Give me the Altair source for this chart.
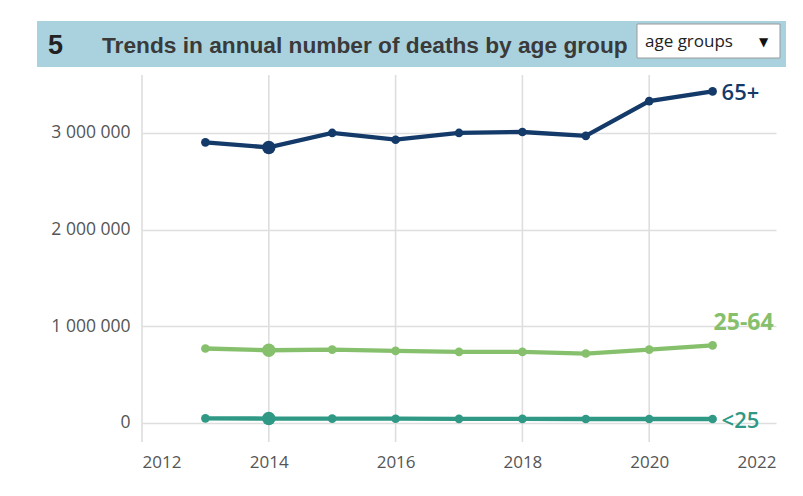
import altair as alt
import pandas as pd

years = [2013, 2014, 2015, 2016, 2017, 2018, 2019, 2020, 2021]
deaths_65plus = [2903000, 2850000, 3000000, 2930000, 3000000, 3010000, 2970000, 3330000, 3430000]
deaths_25_64 = [768000, 750000, 757000, 743000, 733000, 733000, 716000, 757000, 800000]
deaths_under25 = [45000, 43000, 42000, 41000, 40000, 39000, 38000, 38000, 38000]
groups = ["65+", "25-64", "<25"]
colors = ["#143a6a", "#86c06c", "#2f9985"]
highlight_year = 2014

chart_number = "5"
title_text = "Trends in annual number of deaths by age group"
dropdown_text = "age groups"
x_ticks = [2012, 2014, 2016, 2018, 2020, 2022]
x_grid = [2012, 2014, 2016, 2018, 2020]
y_ticks = [0, 1000000, 2000000, 3000000]

rows = []
for g, vals in zip(groups, [deaths_65plus, deaths_25_64, deaths_under25]):
    for yr, v in zip(years, vals):
        rows.append({"year": yr, "deaths": v, "group": g, "hl": yr == highlight_year})
df = pd.DataFrame(rows)

xs = alt.Scale(domain=[2012, 2022], nice=False, zero=False)
ys = alt.Scale(domain=[-200000, 3600000], nice=False, zero=False)
cs = alt.Scale(domain=groups, range=colors)

X = alt.X("year:Q", scale=xs, axis=alt.Axis(
    values=x_ticks, format="d", title=None, domain=False, ticks=False, grid=False,
    labelFlush=True, labelPadding=12, labelFontSize=17, labelColor="#555555",
    labelFont="Open Sans"))
Y = alt.Y("deaths:Q", scale=ys, axis=alt.Axis(
    values=y_ticks, title=None, domain=False, ticks=False, labelPadding=12,
    labelFontSize=17.5, labelColor="#555555", labelFont="Open Sans",
    labelExpr="replace(replace(format(datum.value, ','), ',', ' '), ',', ' ')",
    gridColor="#dedede", gridWidth=1.6))
C = alt.Color("group:N", scale=cs, legend=None)

vgrid = alt.Chart(pd.DataFrame({"year": x_grid})).mark_rule(
    color="#dedede", strokeWidth=1.6).encode(
    x=alt.X("year:Q", scale=xs), y=alt.value(0), y2=alt.value(367))

base = alt.Chart(df)
lines = base.mark_line(strokeWidth=4.3, clip=False).encode(x=X, y=Y, color=C, detail="group:N")
points = base.mark_circle(opacity=1, clip=False).encode(
    x="year:Q", y="deaths:Q", color=C,
    size=alt.condition("datum.hl", alt.value(180), alt.value(75)))

last = base.transform_filter(alt.datum.year == years[-1])
lab_65 = last.transform_filter(alt.datum.group == "65+").mark_text(
    align="left", baseline="middle", dx=9, dy=2, fontSize=22, font="Open Sans",
    fontWeight=600).encode(x="year:Q", y="deaths:Q", text="group:N", color=C)
lab_2564 = last.transform_filter(alt.datum.group == "25-64").mark_text(
    align="left", baseline="middle", dx=1, dy=-22, fontSize=23, font="Open Sans",
    fontWeight="bold").encode(x="year:Q", y="deaths:Q", text="group:N", color=C)
lab_25 = last.transform_filter(alt.datum.group == "<25").mark_text(
    align="left", baseline="middle", dx=9, dy=2, fontSize=22, font="Open Sans",
    fontWeight=600).encode(x="year:Q", y="deaths:Q", text="group:N", color=C)

hdr = pd.DataFrame({"num": [chart_number], "title": [title_text], "dd": [dropdown_text], "arrow": ["▼"]})
hb = alt.Chart(hdr)
bar = hb.mark_rect(color="#a9d2de").encode(
    x=alt.value(-105), x2=alt.value(645), y=alt.value(-54), y2=alt.value(-8))
num = hb.mark_text(align="left", baseline="alphabetic", fontSize=27, fontWeight="bold",
                   font="Liberation Sans", color="#222222").encode(
    x=alt.value(-94), y=alt.value(-21), text="num:N")
ttl = hb.mark_text(align="left", baseline="alphabetic", fontSize=22.7, fontWeight="bold",
                   font="Liberation Sans", color="#3a3a3a").encode(
    x=alt.value(-40), y=alt.value(-22), text="title:N")
ddbox = hb.mark_rect(color="white", stroke="#9a9a9a", strokeWidth=1).encode(
    x=alt.value(495), x2=alt.value(638), y=alt.value(-51), y2=alt.value(-17))
ddtxt = hb.mark_text(align="left", baseline="alphabetic", fontSize=17, font="Open Sans",
                     color="#222222").encode(x=alt.value(503), y=alt.value(-28), text="dd:N")
ddarr = hb.mark_text(align="left", baseline="middle", fontSize=12, font="DejaVu Sans",
                     color="#111111").encode(x=alt.value(617), y=alt.value(-33), text="arrow:N")

chart = alt.layer(vgrid, lines, points, lab_65, lab_2564, lab_25,
                  bar, num, ttl, ddbox, ddtxt, ddarr).properties(
    width=634, height=367,
    autosize=alt.AutoSizeParams(type="none"),
    padding={"left": 134, "top": 67, "right": 10, "bottom": 40},
    background="white",
).configure_view(stroke="transparent", strokeWidth=0)

chart.save("out.html", embed_options={"renderer": "svg", "actions": False})
